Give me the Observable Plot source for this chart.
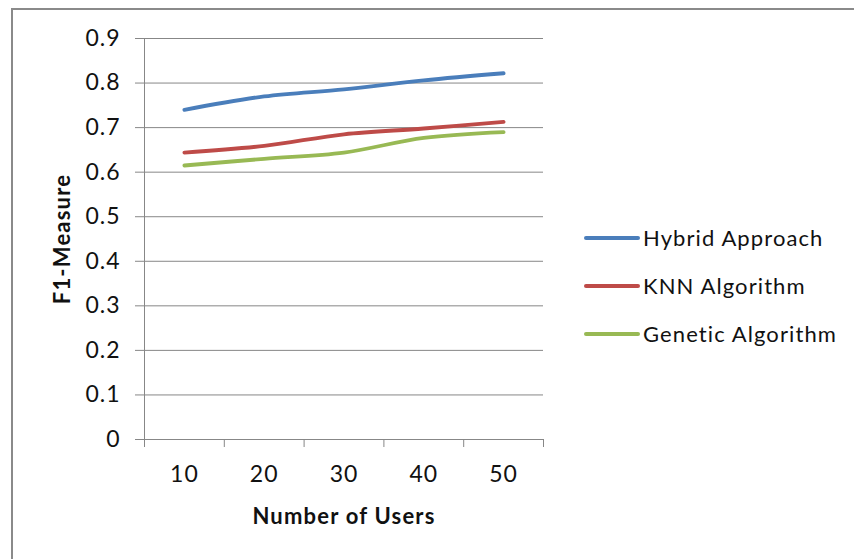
<!DOCTYPE html>
<html>
<head>
<meta charset="utf-8">
<script src="https://cdn.jsdelivr.net/npm/d3@7"></script>
<script src="https://cdn.jsdelivr.net/npm/@observablehq/plot@0.6"></script>
<style>
  html, body { margin: 0; padding: 0; background: #fff; overflow: hidden; }
  #wrap { position: relative; width: 854px; height: 559px; font-family: Lato, sans-serif; }
  #border { position: absolute; left: 11px; top: 8px; width: 900px; height: 600px;
            border: 2px solid #8a8a8a; box-sizing: border-box; pointer-events: none; }
  #chart { position: absolute; left: 0; top: 0; }
  #legend { position: absolute; left: 584px; top: 214px; }
  .item { display: flex; align-items: center; height: 48px; }
  .item .swatch { width: 56px; height: 4px; border-radius: 2px; margin-right: 3px; }
  .item .name { font-size: 22px; letter-spacing: 1.1px; color: #111; line-height: 1; }
  #chart svg text { letter-spacing: 1px; }
  #chart svg .title text { letter-spacing: 1.2px; }
</style>
</head>
<body>
<div id="wrap">
  <div id="chart"></div>
  <div id="legend"></div>
  <div id="border"></div>
</div>
<script>
// Number of users on the x axis
const users = [10, 20, 30, 40, 50];

// F1-measure per method
const hybrid  = [0.740, 0.770, 0.786, 0.806, 0.822];
const knn     = [0.644, 0.659, 0.685, 0.698, 0.713];
const genetic = [0.615, 0.630, 0.644, 0.677, 0.690];

const seriesNames  = ["Hybrid Approach", "KNN Algorithm", "Genetic Algorithm"];
const seriesColors = ["#4A7EBB", "#BE4B48", "#98B954"];
const yTicks = [0, 0.1, 0.2, 0.3, 0.4, 0.5, 0.6, 0.7, 0.8, 0.9];

const seriesValues = [hybrid, knn, genetic];
const rows = seriesNames.flatMap((name, s) =>
  users.map((u, i) => ({ users: u, value: seriesValues[s][i], series: name })));

// category bands: each user count sits in the middle of its own slot
const step = users[1] - users[0];
const xDomain = [users[0] - step / 2, users[users.length - 1] + step / 2];
const bounds = users.map(u => u - step / 2).concat(xDomain[1]);

const axisGray = "#878787";

const chart = Plot.plot({
  width: 854,
  height: 559,
  marginLeft: 144,
  marginRight: 311,
  marginTop: 38,
  marginBottom: 120,
  style: { fontFamily: "Lato, sans-serif", fontSize: "23px", color: "#111", background: "transparent", overflow: "visible" },
  x: { type: "linear", domain: xDomain },
  y: { domain: [0, 0.9] },
  color: { domain: seriesNames, range: seriesColors },
  marks: [
    Plot.gridY(yTicks, { stroke: axisGray, strokeOpacity: 1, strokeWidth: 1 }),
    Plot.axisY(yTicks, {
      tickSize: 9, tickPadding: 15, stroke: axisGray, fill: "#111", label: null,
      tickFormat: d => d === 0 ? "0" : d.toFixed(1)
    }),
    Plot.ruleX([xDomain[0]], { y1: 0, y2: 0.9, stroke: axisGray }),
    Plot.axisX(bounds, { tickSize: 8, stroke: axisGray, tickFormat: () => "", label: null }),
    Plot.axisX(users, { tickSize: 0, tickPadding: 26, fill: "#111", label: null, tickFormat: d => String(d) }),
    Plot.line(rows, {
      x: "users", y: "value", z: "series", stroke: "series",
      strokeWidth: 3.8, curve: "catmull-rom", strokeLinecap: "round"
    }),
    Plot.text(["F1-Measure"], {
      frameAnchor: "left", textAnchor: "middle", rotate: -90, dx: -82,
      fontWeight: "bold", fontSize: 22, fill: "#111", className: "title"
    }),
    Plot.text(["Number of Users"], {
      frameAnchor: "bottom", dy: 84, fontWeight: "bold", fontSize: 22, fill: "#111", className: "title"
    })
  ]
});
document.getElementById("chart").appendChild(chart);

// legend on the right
const legend = d3.select("#legend");
seriesNames.forEach((name, i) => {
  const item = legend.append("div").attr("class", "item");
  item.append("div").attr("class", "swatch").style("background", seriesColors[i]);
  item.append("div").attr("class", "name").text(name);
});
</script>
</body>
</html>
